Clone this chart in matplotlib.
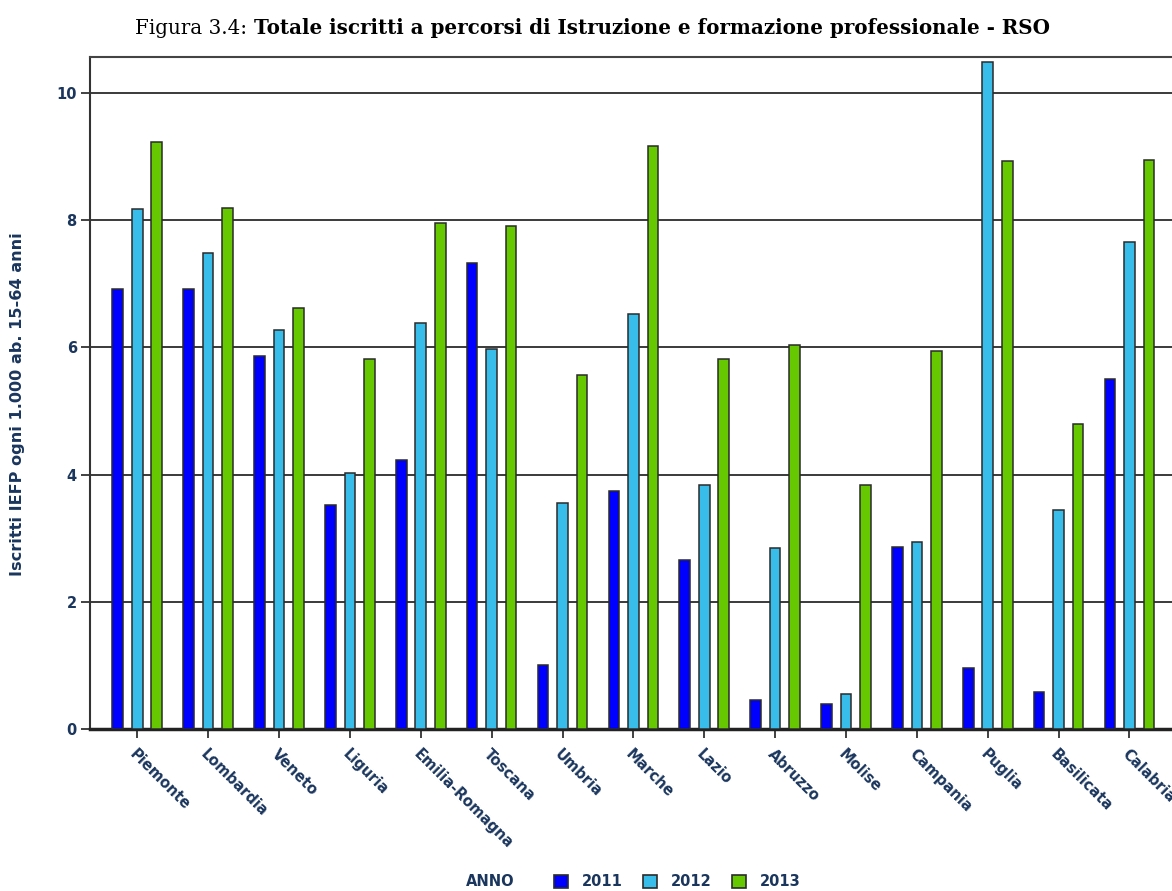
"""Figura 3.4 - Totale iscritti IEFP per regione (RSO), 2011-2013."""
import matplotlib
matplotlib.use('Agg')
import matplotlib.pyplot as plt
from matplotlib.patches import Patch
import numpy as np

regions = ['Piemonte', 'Lombardia', 'Veneto', 'Liguria', 'Emilia-Romagna', 'Toscana',
           'Umbria', 'Marche', 'Lazio', 'Abruzzo', 'Molise', 'Campania', 'Puglia',
           'Basilicata', 'Calabria']
v2011 = [6.91, 6.91, 5.86, 3.52, 4.23, 7.33, 1.01, 3.74, 2.66, 0.45, 0.40, 2.86, 0.96, 0.58, 5.51]
v2012 = [8.17, 7.49, 6.28, 4.03, 6.38, 5.97, 3.56, 6.53, 3.84, 2.84, 0.55, 2.94, 10.48, 3.44, 7.65]
v2013 = [9.23, 8.19, 6.62, 5.81, 7.96, 7.91, 5.56, 9.17, 5.81, 6.04, 3.83, 5.95, 8.93, 4.79, 8.94]
years = ['2011', '2012', '2013']
yticks = [0, 2, 4, 6, 8, 10]

NAVY = '#1b365d'
COLORS = ['#0000ff', '#38bdea', '#66c800']
EDGE = '#2b2b2b'

fig = plt.figure(figsize=(11.72, 8.91), dpi=100)
ax = fig.add_axes([90 / 1172, 1 - 729 / 891, 1 - 90 / 1172, (729 - 57.3) / 891])

x = np.arange(len(regions))
off = 0.275
w = 0.15
for i, (vals, col) in enumerate(zip([v2011, v2012, v2013], COLORS)):
    ax.bar(x + (i - 1) * off, vals, width=w, color=col, edgecolor=EDGE, linewidth=1.1, zorder=3)

ax.set_xlim(-0.667, 14.6)
ax.set_ylim(0, 10.56)
ax.set_yticks(yticks)
ax.set_yticklabels([str(t) for t in yticks])
ax.set_xticks(x)
ax.set_xticklabels(regions, rotation=-45, ha='left', va='top', rotation_mode='anchor')

ax.yaxis.grid(True, color='#3a3a3a', linewidth=1.4, zorder=0)
ax.set_axisbelow(True)

for lab in ax.get_xticklabels() + ax.get_yticklabels():
    lab.set_fontweight('bold')
    lab.set_color(NAVY)
    lab.set_fontsize(10.5)
ax.tick_params(axis='y', length=6.5, width=1.3, color='#333333', pad=3)
ax.tick_params(axis='x', length=6.5, width=1.3, color='#333333', pad=6)

ax.spines['right'].set_visible(False)
ax.spines['bottom'].set_linewidth(2.5)
ax.spines['bottom'].set_color('#222222')
ax.spines['left'].set_linewidth(1.5)
ax.spines['left'].set_color('#333333')
ax.spines['top'].set_linewidth(1.5)
ax.spines['top'].set_color('#444444')

fig.text(18 / 1172, 1 - 404 / 891, 'Iscritti IEFP ogni 1.000 ab. 15-64 anni', rotation=90,
         ha='center', va='center', fontsize=11.6, fontweight='bold', color=NAVY)

# title: plain "Figura 3.4:" followed by bold text
fig.text(247 / 1172, 1 - 28 / 891, 'Figura 3.4:', ha='right', va='center',
         fontsize=14.3, family='DejaVu Serif', color='black')
fig.text(254 / 1172, 1 - 28 / 891,
         'Totale iscritti a percorsi di Istruzione e formazione professionale - RSO',
         ha='left', va='center', fontsize=14.3, fontweight='bold', family='DejaVu Serif',
         color='black')

# legend
fig.text(490 / 1172, 1 - 882 / 891, 'ANNO', ha='center', va='center', fontsize=10.5,
         fontweight='bold', color=NAVY)
handles = [Patch(facecolor=c, edgecolor=EDGE, linewidth=1.2) for c in COLORS]
leg = fig.legend(handles, years, ncol=3, loc='center', bbox_to_anchor=(677 / 1172, 1 - 882 / 891),
                 frameon=False, handlelength=1.0, handleheight=1.0, columnspacing=1.4,
                 handletextpad=0.9, prop={'weight': 'bold', 'size': 10.5})
for t in leg.get_texts():
    t.set_color(NAVY)

plt.savefig('out.png', dpi=100, facecolor='white')
plt.close()
